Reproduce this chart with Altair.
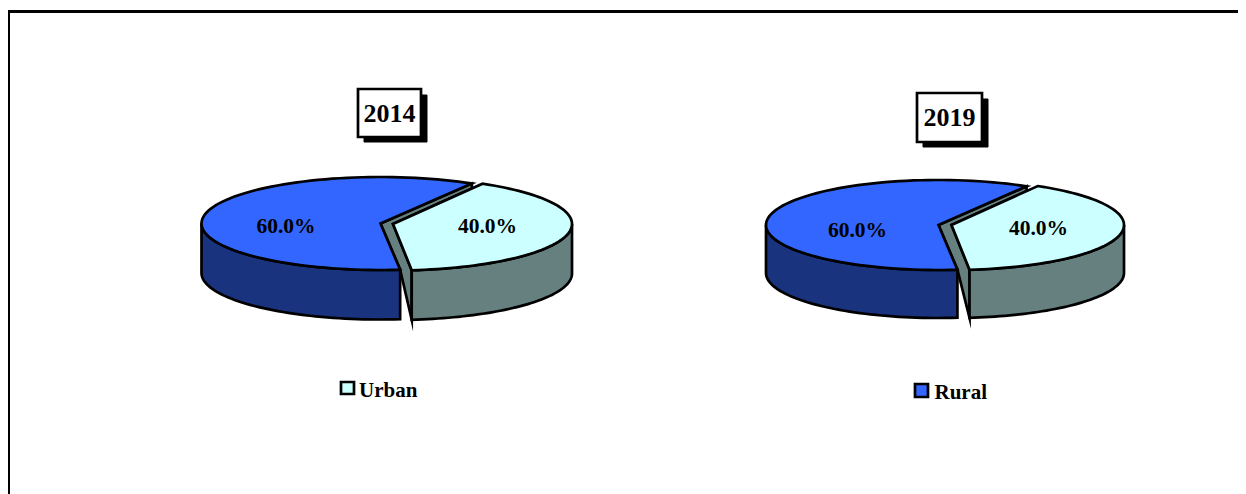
import numpy as np
import pandas as pd
import altair as alt

# ---- data ----
years = ["2014", "2019"]
urban_share = [40.0, 40.0]
rural_share = [60.0, 60.0]
legend_names = ["Urban", "Rural"]

# ---- styling / layout (image pixel coordinates) ----
BLUE, DARK_BLUE, LIGHT, SIDE = "#3366FF", "#19337F", "#CCFFFF", "#667F7F"
FONT = "Liberation Serif"
W, H = 1230, 486
X = alt.X("x:Q", scale=alt.Scale(domain=[8, 8 + W], range=[0, W]), axis=None)
Y = alt.Y("y:Q", scale=alt.Scale(domain=[8 + H, 8], range=[H, 0]), axis=None)
X2 = alt.X2("x2:Q")
Y2 = alt.Y2("y2:Q")

pies = [
    dict(cx=380.5, cy=223.5, lx=393.0, ly=224.0, a=179.0, b=46.5, d=49.5,
         box=(358, 89, 421, 137), lab60=(286, 226.5), lab40=(487.5, 226.5),
         sw=(341, 382, 354, 394), leg=(359, 390.5)),
    dict(cx=938.5, cy=225.0, lx=951.5, ly=225.0, a=172.5, b=45.0, d=48.0,
         box=(917, 93, 982, 142), lab60=(857.5, 230.5), lab40=(1038.5, 228.5),
         sw=(915, 384, 928, 397), leg=(934.5, 392.5)),
]
LIGHT_START = 60.0   # where the light slice's upper edge sits
BLUE_START = 59.3    # where the blue slice's upper edge sits
BLUE_EXTRA = 1.0     # the drawn perspective widens the large slice a little
STROKE = 2.7


def ell(cx, cy, a, b, deg, dy=0.0):
    t = np.radians(deg)
    return cx + a * np.cos(t), cy - b * np.sin(t) + dy


def poly(points, fill, width=STROKE):
    df = pd.DataFrame(points, columns=["x", "y"])
    df["o"] = range(len(df))
    return alt.Chart(df).mark_line(
        fill=fill, stroke="black", strokeWidth=width, interpolate="linear-closed",
        strokeJoin="miter", strokeMiterLimit=12, clip=False,
    ).encode(x=X, y=Y, order="o:Q")


def rect(x, y, x2, y2, fill, stroke=None, width=0):
    df = pd.DataFrame([dict(x=x, y=y, x2=x2, y2=y2)])
    kw = dict(fill=fill)
    if stroke:
        kw.update(stroke=stroke, strokeWidth=width)
    return alt.Chart(df).mark_rect(**kw).encode(x=X, y=Y, x2=X2, y2=Y2)


def text(label, x, y, size, align="center"):
    df = pd.DataFrame([dict(x=x, y=y, t=label)])
    return alt.Chart(df).mark_text(
        font=FONT, fontWeight="bold", fontSize=size, color="black",
        align=align, baseline="middle",
    ).encode(x=X, y=Y, text="t:N")


layers = []
for year, u, r, name, p in zip(years, urban_share, rural_share, legend_names, pies):
    rural_sweep = 360 * r / (u + r)
    urban_sweep = 360 * u / (u + r)
    cx, cy, lx, ly, a, b, d = p["cx"], p["cy"], p["lx"], p["ly"], p["a"], p["b"], p["d"]
    blue_end = BLUE_START + rural_sweep + BLUE_EXTRA
    light_end = LIGHT_START - urban_sweep

    bt = ell(cx, cy, a, b, BLUE_START)
    bb = ell(cx, cy, a, b, blue_end)
    lt = ell(lx, ly, a, b, LIGHT_START)
    lb = ell(lx, ly, a, b, light_end)
    strip_y = ly + (bt[0] - lx) / (lt[0] - lx) * (lt[1] - ly)

    # exposed cut faces behind both slices
    layers.append(poly([(cx, cy), bt, (bt[0], strip_y), (lx, ly), lb,
                        (lb[0], lb[1] + d), bb], SIDE))
    # light slice: wall then top
    arc = np.linspace(light_end, 0, 50)
    upper = [ell(lx, ly, a, b, t) for t in arc]
    lower = [ell(lx, ly, a, b, t, d) for t in arc[::-1]]
    layers.append(poly(upper + lower, SIDE))
    arc = np.linspace(LIGHT_START, light_end, 70)
    layers.append(poly([(lx, ly)] + [ell(lx, ly, a, b, t) for t in arc], LIGHT))
    # blue slice: wall then top
    arc = np.linspace(180, blue_end, 50)
    upper = [ell(cx, cy, a, b, t) for t in arc]
    lower = [ell(cx, cy, a, b, t, d) for t in arc[::-1]]
    layers.append(poly(upper + lower, DARK_BLUE))
    arc = np.linspace(BLUE_START, blue_end, 90)
    layers.append(poly([(cx, cy)] + [ell(cx, cy, a, b, t) for t in arc], BLUE))

    layers.append(text(f"{r:.1f}%", *p["lab60"], 21.5))
    layers.append(text(f"{u:.1f}%", *p["lab40"], 21.5))

    # title box with hard shadow
    x0, y0, x1, y1 = p["box"]
    layers.append(rect(x0 + 6, y0 + 6, x1 + 6, y1 + 5, "black", "black", 1))
    layers.append(rect(x0, y0, x1, y1, "white", "black", 2.7))
    layers.append(text(year, (x0 + x1) / 2, (y0 + y1) / 2 + 0.5, 26))

    # legend
    sx0, sy0, sx1, sy1 = p["sw"]
    layers.append(rect(sx0, sy0, sx1, sy1, LIGHT if name == "Urban" else BLUE, "black", 2.7))
    layers.append(text(name, *p["leg"], 21, align="left"))

# outer frame: only top and left are inside the picture
layers.append(rect(8.5, 11.5, 8 + W + 10, 8 + H + 10, "transparent", "black", 3))

chart = alt.layer(*layers).properties(
    width=W, height=H, padding=0, background="white",
    autosize=alt.AutoSizeParams(type="none"),
).configure_view(stroke=None)

chart.save("out.html", embed_options={"renderer": "svg", "actions": False})
